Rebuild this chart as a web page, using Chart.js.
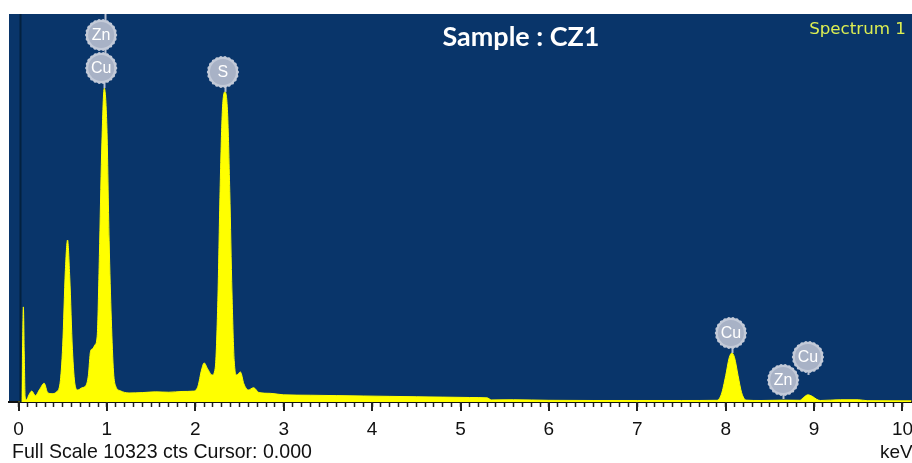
<!DOCTYPE html>
<html>
<head>
<meta charset="utf-8">
<title>EDS spectrum – Sample CZ1</title>
<script src="https://cdn.jsdelivr.net/npm/chart.js@4/dist/chart.umd.min.js"></script>
<style>
  html, body { margin: 0; padding: 0; background: #ffffff; overflow: hidden; }
  canvas { display: block; }
</style>
</head>
<body>
<canvas id="eds" width="912" height="463"></canvas>
<script>
// ---- Spectrum data: X-ray energy (keV) and intensity (counts) ----
const energyKeV = [
  0.00, 0.035, 0.045, 0.055, 0.065, 0.075, 0.09, 0.12, 0.15, 0.19,
  0.24, 0.29, 0.33, 0.38, 0.43, 0.47, 0.50, 0.53, 0.555, 0.58,
  0.61, 0.64, 0.67, 0.72, 0.76, 0.79, 0.815, 0.84, 0.865, 0.89,
  0.915, 0.94, 0.97, 1.00, 1.025, 1.05, 1.075, 1.10, 1.15, 1.25,
  1.40, 1.55, 1.70, 1.85, 1.98, 2.03, 2.07, 2.10, 2.14, 2.19,
  2.225, 2.255, 2.28, 2.305, 2.335, 2.365, 2.39, 2.415, 2.44, 2.47,
  2.51, 2.55, 2.60, 2.66, 2.72, 2.85, 3.00, 3.30, 3.60, 3.90,
  4.20, 4.50, 4.80, 5.10, 5.30, 5.35, 5.60, 6.00, 6.50, 7.00,
  7.50, 7.90, 7.95, 8.00, 8.04, 8.07, 8.10, 8.14, 8.18, 8.23,
  8.40, 8.65, 8.84, 8.88, 8.93, 8.98, 9.03, 9.07, 9.30, 9.50,
  9.60, 10.10
];
const counts = [
  0, 0, 1300, 2530, 1300, 150, 60, 200, 290, 170,
  340, 500, 250, 220, 270, 500, 1500, 3500, 4310, 3300,
  1400, 450, 320, 380, 430, 700, 1350, 1420, 1520, 1750,
  3900, 6600, 8350, 7300, 4300, 2200, 800, 420, 300, 240,
  250, 270, 260, 280, 290, 420, 850, 1040, 880, 720,
  900, 2700, 5600, 7700, 8250, 7700, 5600, 2900, 1100, 720,
  800, 480, 320, 380, 250, 230, 190, 180, 170, 160,
  150, 140, 130, 120, 110, 55, 60, 45, 40, 40,
  40, 45, 200, 700, 1180, 1304, 1180, 700, 250, 50,
  40, 50, 45, 120, 190, 150, 70, 40, 60, 60,
  35, 30
];

// Axis labels and acquisition info
const axisTickLabels = ['0', '1', '2', '3', '4', '5', '6', '7', '8', '9', '10'];
const fullScaleCounts = 10323;
const cursorKeV = 0.0;

// Identified lines (element, line energy in keV)
const peakElements = ['Zn', 'Cu', 'S', 'Cu', 'Zn', 'Cu'];
const peakEnergies = [0.98, 0.97, 2.335, 8.07, 8.65, 8.93];

// Marker placement for each identified line (label height and stem extent in counts)
const markerLayout = [
  { label: 9764, stemTop: 10323, stemBottom: 9200, dx: -4 },
  { label: 8886, stemTop: 8886, stemBottom: 8350, dx: -3 },
  { label: 8780, stemTop: 8780, stemBottom: 8250, dx: -2 },
  { label: 1836, stemTop: 1836, stemBottom: 1304, dx: -1 },
  { label: 585,  stemTop: 585,  stemBottom: 80,   dx: 0 },
  { label: 1197, stemTop: 1197, stemBottom: 720,  dx: 0 }
];

// Minor ticks every 0.1 keV
const minorTickValues = [];
for (let i = 0; i <= 100; i++) minorTickValues.push(i / 10);

const PLOT_BG = '#09356a';
const SPECTRUM_YELLOW = '#ffff00';

function fitText(ctx, text, weight, family, targetWidth) {
  ctx.font = weight + ' 20px "' + family + '"';
  const w = ctx.measureText(text).width;
  const size = 20 * targetWidth / w;
  ctx.font = weight + ' ' + size.toFixed(2) + 'px "' + family + '"';
  return size;
}

function drawMarker(ctx, cx, cy, text) {
  const r = 14.5;
  ctx.save();
  ctx.fillStyle = '#c3cad8';
  ctx.beginPath();
  ctx.arc(cx, cy, r + 0.8, 0, Math.PI * 2);
  ctx.fill();
  // soft scalloped rim
  for (let k = 0; k < 22; k++) {
    const a = k * Math.PI * 2 / 22;
    ctx.beginPath();
    ctx.arc(cx + Math.cos(a) * r, cy + Math.sin(a) * r, 1.6, 0, Math.PI * 2);
    ctx.fill();
  }
  ctx.fillStyle = '#a8b2c6';
  ctx.beginPath();
  ctx.arc(cx, cy, r - 1.5, 0, Math.PI * 2);
  ctx.fill();
  ctx.fillStyle = '#ffffff';
  ctx.font = '16px "Liberation Sans"';
  ctx.textAlign = 'center';
  ctx.textBaseline = 'middle';
  ctx.fillText(text, cx, cy + 1);
  ctx.restore();
}

const spectrumDecor = {
  id: 'spectrumDecor',
  beforeDraw(chart) {
    const { ctx, chartArea: a } = chart;
    ctx.save();
    ctx.fillStyle = '#ffffff';
    ctx.fillRect(0, 0, chart.width, chart.height);
    ctx.fillStyle = PLOT_BG;
    ctx.fillRect(a.left, a.top, a.right - a.left, a.bottom - a.top);
    ctx.restore();
  },
  afterDatasetsDraw(chart) {
    const { ctx, chartArea: a } = chart;
    const xs = chart.scales.x, ys = chart.scales.y;
    ctx.save();

    // cursor line
    const cxp = Math.round(xs.getPixelForValue(cursorKeV)) + 1.5;
    ctx.strokeStyle = '#03213f';
    ctx.lineWidth = 2;
    ctx.beginPath();
    ctx.moveTo(cxp, a.top);
    ctx.lineTo(cxp, a.bottom);
    ctx.stroke();

    // line markers: stems first, then labels
    ctx.strokeStyle = '#b9c2d4';
    ctx.lineWidth = 2;
    peakEnergies.forEach((e, i) => {
      const m = markerLayout[i];
      const x = Math.round(xs.getPixelForValue(e)) + 0.5;
      ctx.beginPath();
      ctx.moveTo(x, ys.getPixelForValue(m.stemTop));
      ctx.lineTo(x, ys.getPixelForValue(m.stemBottom));
      ctx.stroke();
    });
    peakElements.forEach((el, i) => {
      const m = markerLayout[i];
      const x = xs.getPixelForValue(peakEnergies[i]) + m.dx;
      drawMarker(ctx, x, ys.getPixelForValue(m.label), el);
    });

    // sample title
    ctx.fillStyle = '#ffffff';
    ctx.textAlign = 'center';
    ctx.textBaseline = 'alphabetic';
    fitText(ctx, 'Sample : CZ1', 'bold', 'Lato', 157);
    ctx.fillText('Sample : CZ1', 521, 46);

    // spectrum name
    ctx.fillStyle = '#dcee52';
    ctx.textAlign = 'right';
    fitText(ctx, 'Spectrum 1', 'normal', 'DejaVu Sans', 97);
    ctx.fillText('Spectrum 1', 906, 34);
    ctx.restore();
  },
  afterDraw(chart) {
    const { ctx, chartArea: a } = chart;
    const xs = chart.scales.x;
    ctx.save();
    // longer marks at whole keV
    ctx.strokeStyle = '#222222';
    ctx.lineWidth = 2;
    axisTickLabels.forEach((t, i) => {
      const x = Math.round(xs.getPixelForValue(i));
      ctx.beginPath();
      ctx.moveTo(x, a.bottom);
      ctx.lineTo(x, a.bottom + 9);
      ctx.stroke();
    });
    // status line
    ctx.fillStyle = '#111111';
    ctx.textAlign = 'left';
    ctx.textBaseline = 'alphabetic';
    const status = 'Full Scale ' + fullScaleCounts + ' cts Cursor: ' + cursorKeV.toFixed(3);
    fitText(ctx, status, 'normal', 'Liberation Sans', 300);
    ctx.fillText(status, 12, 458);
    ctx.font = '19px "Liberation Sans"';
    ctx.fillText('keV', 880, 458);
    ctx.restore();
  }
};

new Chart(document.getElementById('eds'), {
  type: 'line',
  data: {
    datasets: [{
      label: 'Spectrum 1',
      data: energyKeV.map((e, i) => ({ x: e, y: counts[i] })),
      fill: 'origin',
      backgroundColor: SPECTRUM_YELLOW,
      borderColor: SPECTRUM_YELLOW,
      borderWidth: 1,
      pointRadius: 0,
      cubicInterpolationMode: 'monotone'
    }]
  },
  options: {
    responsive: false,
    animation: false,
    devicePixelRatio: 1,
    layout: { padding: { left: 9, top: 14, right: 0, bottom: 0 } },
    plugins: {
      legend: { display: false },
      tooltip: { enabled: false },
      title: { display: false }
    },
    scales: {
      x: {
        type: 'linear',
        min: -0.1075,
        max: 10.1075,
        afterBuildTicks(scale) {
          scale.ticks = minorTickValues.map(v => ({ value: v }));
        },
        afterFit(scale) {
          scale.height = 61;
          scale.paddingLeft = 0;
          scale.paddingRight = 0;
        },
        ticks: {
          autoSkip: false,
          maxRotation: 0,
          padding: 11,
          color: '#111111',
          font: { family: 'Liberation Sans', size: 19 },
          callback(value) {
            const i = Math.round(value);
            return Math.abs(value - i) < 1e-6 ? axisTickLabels[i] : '';
          }
        },
        grid: {
          drawOnChartArea: false,
          tickLength: 5,
          tickWidth: 1.5,
          tickColor: '#222222'
        },
        border: { display: true, color: '#111111', width: 2 }
      },
      y: {
        display: false,
        min: 0,
        max: fullScaleCounts
      }
    }
  },
  plugins: [spectrumDecor]
});
</script>
</body>
</html>
